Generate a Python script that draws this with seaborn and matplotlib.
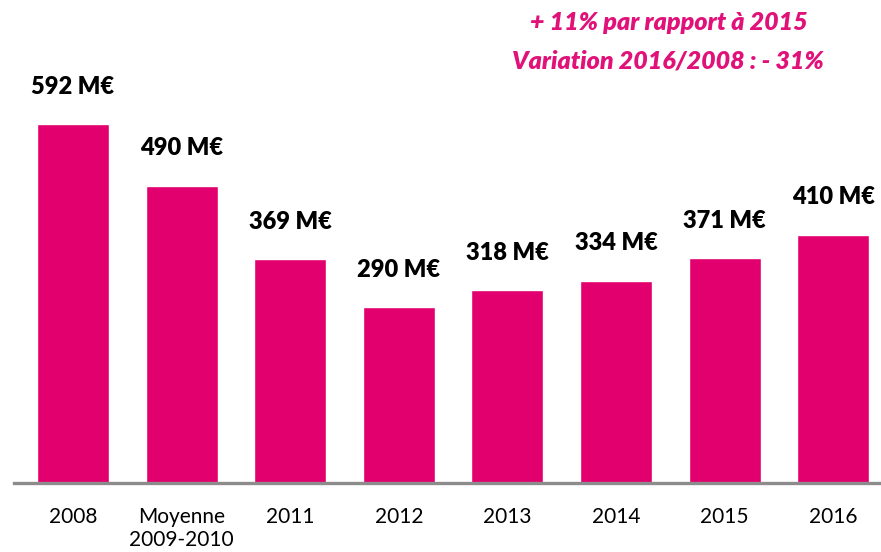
import matplotlib
matplotlib.use("Agg")
import matplotlib.pyplot as plt
import seaborn as sns
import pandas as pd

categories = ["2008", "Moyenne\n2009-2010", "2011", "2012", "2013", "2014", "2015", "2016"]
values = [592, 490, 369, 290, 318, 334, 371, 410]
value_labels = ["592 M€", "490 M€", "369 M€", "290 M€", "318 M€", "334 M€", "371 M€", "410 M€"]
note_lines = ["+ 11% par rapport à 2015", "Variation 2016/2008 : - 31%"]

BAR = "#E2006F"
NOTE = "#E0127A"

sns.set_theme(style="white")
plt.rcParams["font.family"] = ["Lato", "DejaVu Sans"]

df = pd.DataFrame({"cat": categories, "val": values})

fig = plt.figure(figsize=(8.81, 5.52), dpi=100)
ax = fig.add_axes([14 / 881, 69 / 552, 867 / 881, 483 / 552])
sns.barplot(data=df, x="cat", y="val", color=BAR, saturation=1, width=0.663, ax=ax)

ax.set_xlim(-0.543, 7.44)
ax.set_ylim(0, 797)
for s in ["top", "left", "right"]:
    ax.spines[s].set_visible(False)
ax.spines["bottom"].set_color("#8C8C8C")
ax.spines["bottom"].set_linewidth(2.4)
ax.set_yticks([])
ax.set_xlabel("")
ax.set_ylabel("")
ax.tick_params(axis="x", length=0, pad=17, labelsize=15, labelcolor="black")
for t in ax.get_xticklabels():
    t.set_linespacing(1.2)

for i, (v, lab) in enumerate(zip(values, value_labels)):
    ax.annotate(lab, xy=(i, v), xytext=(0, 22), textcoords="offset points",
                ha="center", va="baseline", fontsize=17, fontweight="heavy", color="black")

fig.text(669 / 881, 1 - 30 / 552, note_lines[0], ha="center", va="baseline",
         fontsize=18, fontweight="heavy", fontstyle="italic", color=NOTE)
fig.text(668 / 881, 1 - 68 / 552, note_lines[1], ha="center", va="baseline",
         fontsize=18, fontweight="heavy", fontstyle="italic", color=NOTE)

fig.savefig("out.png", dpi=100)
